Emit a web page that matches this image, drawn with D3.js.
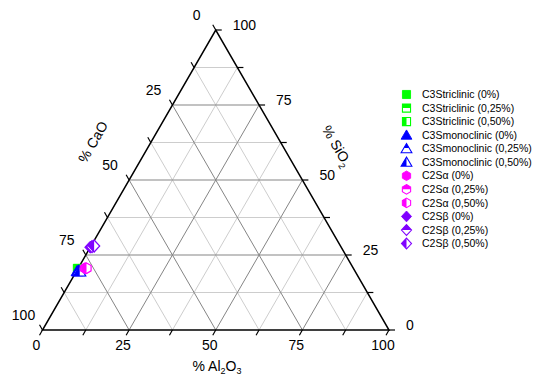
<!DOCTYPE html>
<html>
<head>
<meta charset="utf-8">
<script src="https://cdn.jsdelivr.net/npm/d3@7"></script>
<style>
  body { margin: 0; background: #fff; }
  svg { display: block; font-family: Arial, "Liberation Sans", sans-serif; }
</style>
</head>
<body>
<div id="chart"></div>
<script>
// series (legend order) and their read-off compositions
const seriesNames = [
  "C3Striclinic (0%)", "C3Striclinic (0,25%)", "C3Striclinic (0,50%)",
  "C3Smonoclinic (0%)", "C3Smonoclinic (0,25%)", "C3Smonoclinic (0,50%)",
  "C2S\u03b1 (0%)", "C2S\u03b1 (0,25%)", "C2S\u03b1 (0,50%)",
  "C2S\u03b2 (0%)", "C2S\u03b2 (0,25%)", "C2S\u03b2 (0,50%)"
]
const caoValues   = [79.6, 79.4, 79.2, 80.2, 79.8, 79.5, 77.5, 77.2, 77.0, 72.4, 71.8, 71.1]
const sio2Values  = [20.4, 20.3, 20.3, 19.6, 19.6, 19.5, 20.6, 20.6, 20.6, 27.6, 27.8, 28.0]
const al2o3Values = [ 0.0,  0.3,  0.5,  0.2,  0.6,  1.0,  1.9,  2.2,  2.4,  0.0,  0.4,  0.9]

const labelTicks = [0, 25, 50, 75, 100]
const tickStep = 12.5

// styles per phase group / per doping level
const groupShape = ["square", "triangle", "hexagon", "diamond"]
const groupColor = ["#00ff00", "#0000ff", "#ff00ff", "#8000ff"]
const levelFill = ["full", "top", "left"]

const W = 541, H = 378
const BL = [42.5, 330], BR = [389, 330], TOP = [215.75, 30]
const frac = d3.scaleLinear().domain([0, 100]).range([0, 1])

function proj(c, s, a) {
  const C = frac(c), S = frac(s), A = frac(a), t = C + S + A
  return [(C * BL[0] + A * BR[0] + S * TOP[0]) / t, (C * BL[1] + A * BR[1] + S * TOP[1]) / t]
}

const svg = d3.select("#chart").append("svg")
  .attr("width", W).attr("height", H)

const defs = svg.append("defs")
defs.append("clipPath").attr("id", "clip-top").attr("clipPathUnits", "objectBoundingBox")
  .append("rect").attr("x", 0).attr("y", 0).attr("width", 1).attr("height", 0.5)
defs.append("clipPath").attr("id", "clip-left").attr("clipPathUnits", "objectBoundingBox")
  .append("rect").attr("x", 0).attr("y", 0).attr("width", 0.5).attr("height", 1)

// grid
const gridVals = d3.range(tickStep, 100, tickStep)
const gridLines = []
gridVals.forEach(v => {
  const major = v % 25 === 0
  gridLines.push({ major, p: [proj(100 - v, v, 0), proj(0, v, 100 - v)] })
  gridLines.push({ major, p: [proj(v, 100 - v, 0), proj(v, 0, 100 - v)] })
  gridLines.push({ major, p: [proj(100 - v, 0, v), proj(0, 100 - v, v)] })
})
gridLines.sort((a, b) => a.major - b.major)

svg.append("g").selectAll("line")
  .data(gridLines)
  .join("line")
    .attr("x1", d => d.p[0][0]).attr("y1", d => d.p[0][1])
    .attr("x2", d => d.p[1][0]).attr("y2", d => d.p[1][1])
    .attr("stroke", d => d.major ? "#858585" : "#cdcdcd")
    .attr("stroke-width", 1)

// ticks: each axis with its outward direction
const tickVals = d3.range(0, 100.01, tickStep)
const tickLen = 6
const axes = [
  { pt: v => proj(100 - v, 0, v), dir: [-0.5, 0.866] },   // Al2O3, bottom
  { pt: v => proj(v, 100 - v, 0), dir: [-0.5, -0.866] },  // CaO, left
  { pt: v => proj(0, v, 100 - v), dir: [1, 0] }           // SiO2, right
]
const tickG = svg.append("g")
axes.forEach(ax => {
  tickG.append("g").selectAll("line")
    .data(tickVals)
    .join("line")
      .attr("x1", v => ax.pt(v)[0]).attr("y1", v => ax.pt(v)[1])
      .attr("x2", v => ax.pt(v)[0] + ax.dir[0] * tickLen)
      .attr("y2", v => ax.pt(v)[1] + ax.dir[1] * tickLen)
      .attr("stroke", "#000").attr("stroke-width", 1.2)
})

// triangle frame
svg.append("path")
  .attr("d", d3.line()([BL, BR, TOP]) + "Z")
  .attr("fill", "none").attr("stroke", "#000").attr("stroke-width", 1.5)

// tick labels
const labelG = svg.append("g").attr("font-size", 14).attr("fill", "#000")
labelG.selectAll(".lb")
  .data(labelTicks).join("text")
    .attr("x", v => axes[0].pt(v)[0] - 6).attr("y", v => axes[0].pt(v)[1] + 15)
    .attr("dy", "0.35em").attr("text-anchor", "middle").text(v => v)
labelG.selectAll(".ll")
  .data(labelTicks).join("text")
    .attr("x", v => axes[1].pt(v)[0] - 19).attr("y", v => axes[1].pt(v)[1] - 15)
    .attr("dy", "0.35em").attr("text-anchor", "middle").text(v => v)
labelG.selectAll(".lr")
  .data(labelTicks).join("text")
    .attr("x", v => axes[2].pt(v)[0] + 17).attr("y", v => axes[2].pt(v)[1] - 5)
    .attr("dy", "0.35em").attr("text-anchor", "start").text(v => v)

// axis titles
const titleG = svg.append("g").attr("font-size", 14).attr("fill", "#000")
const tAl = titleG.append("text").attr("x", 217).attr("y", 371).attr("text-anchor", "middle")
tAl.append("tspan").text("% Al")
tAl.append("tspan").attr("font-size", 9).attr("dy", 3).text("2")
tAl.append("tspan").attr("dy", -3).text("O")
tAl.append("tspan").attr("font-size", 9).attr("dy", 3).text("3")

titleG.append("text")
  .attr("transform", "translate(93,142) rotate(-60)")
  .attr("text-anchor", "middle").attr("dy", "0.35em")
  .text("% CaO")

const tSi = titleG.append("text")
  .attr("transform", "translate(337,146) rotate(60)")
  .attr("text-anchor", "middle").attr("dy", "0.35em")
tSi.append("tspan").text("% SiO")
tSi.append("tspan").attr("font-size", 9).attr("dy", 4).text("2")

// marker shapes
function shapePath(shape) {
  if (shape === "square") return "M-4.5,-4.5h9v9h-9Z"
  if (shape === "triangle") return "M0,-5.8L6,4.5L-6,4.5Z"
  if (shape === "hexagon") {
    const r = 5.3
    return d3.line()(d3.range(6).map(k => {
      const a = (-90 + 60 * k) * Math.PI / 180
      return [r * Math.cos(a), r * Math.sin(a)]
    })) + "Z"
  }
  return "M0,-6L5.6,0L0,6L-5.6,0Z"
}

function drawMarker(g, i) {
  const shape = groupShape[Math.floor(i / 3)]
  const color = groupColor[Math.floor(i / 3)]
  const fill = levelFill[i % 3]
  const d = shapePath(shape)
  if (fill === "full") {
    g.append("path").attr("d", d).attr("fill", color).attr("stroke", color).attr("stroke-width", 1)
  } else {
    g.append("path").attr("d", d).attr("fill", "#fff").attr("stroke", color).attr("stroke-width", 1.2)
    g.append("path").attr("d", d).attr("fill", color)
      .attr("clip-path", fill === "top" ? "url(#clip-top)" : "url(#clip-left)")
  }
}

// data points
const points = seriesNames.map((name, i) => ({ name, i, c: caoValues[i], s: sio2Values[i], a: al2o3Values[i] }))
svg.append("g").selectAll("g")
  .data(points)
  .join("g")
    .attr("transform", d => `translate(${proj(d.c, d.s, d.a)})`)
    .each(function (d) { drawMarker(d3.select(this), d.i) })

// legend
const legY = d3.scaleLinear().domain([0, 1]).range([94.5, 108.05])
const legend = svg.append("g").attr("font-size", 10.5).attr("fill", "#000")
legend.selectAll("g")
  .data(points)
  .join("g")
    .attr("transform", d => `translate(406.5,${legY(d.i)})`)
    .each(function (d) {
      const g = d3.select(this)
      const m = g.append("g").attr("transform", "scale(0.9)")
      drawMarker(m, d.i)
      g.append("text").attr("x", 15.5).attr("dy", "0.35em").text(d.name)
    })
</script>
</body>
</html>
